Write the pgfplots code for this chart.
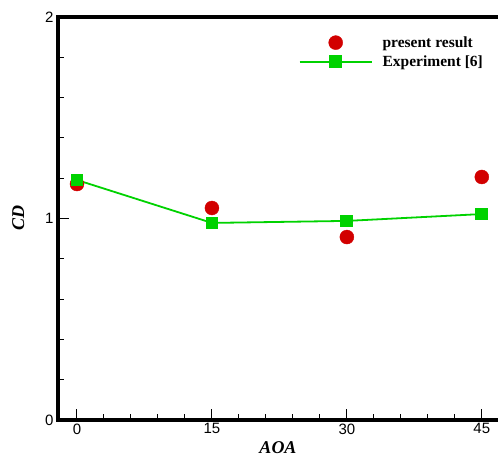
\documentclass[border=0pt]{standalone}
\usepackage{fontspec}
\setmainfont{Liberation Serif}
\newfontfamily\arial{Liberation Sans}
\usepackage{pgfplots}
\pgfplotsset{compat=1.18}
\definecolor{myred}{RGB}{210,0,0}
\definecolor{mygreen}{RGB}{0,210,0}
\begin{document}
\begin{tikzpicture}
\begin{axis}[
  scale only axis,
  width=440pt, height=403pt,
  xmin=-2.11, xmax=46.8,
  ymin=0, ymax=2,
  axis x line*=box,
  axis y line*=left,
  axis line style={line width=3.2pt},
  xtick={0,15,30,45},
  ytick={0,1,2},
  minor x tick num=4,
  minor y tick num=4,
  tick align=inside,
  major tick length=11pt,
  minor tick length=6pt,
  tick style={black, line width=1pt},
  xtick pos=bottom,
  ytick pos=left,
  /pgf/number format/assume math mode=true,
  tick label style={font=\arial\fontsize{15}{15}\selectfont},
  yticklabel style={xshift=-1pt},
  xlabel={\bfseries\itshape AOA},
  ylabel={\bfseries\itshape CD},
  label style={font=\fontsize{18}{18}\selectfont},
  xlabel style={yshift=-1pt},
  ylabel style={yshift=14pt},
  legend style={draw=none, fill=none, at={(0.54,0.962)}, anchor=north west,
    font=\bfseries\fontsize{15.5}{16}\selectfont, row sep=3pt,
    /tikz/every odd column/.append style={column sep=8pt}},
  legend cell align=left,
  legend image code/.code={\draw[mark repeat=2,mark phase=2] plot coordinates {(0pt,0pt)(36pt,0pt)(72pt,0pt)};},
  clip=false,
]
\draw[black, line width=3.2pt, line cap=rect] (rel axis cs:1.05,1) -- (rel axis cs:0,1) -- (rel axis cs:0,0) -- (rel axis cs:1.05,0);
\addplot[only marks, mark=*, mark size=7pt, color=myred, draw=myred, fill=myred]
  coordinates {(0,1.171) (15,1.052) (30,0.908) (45,1.206)};
\addlegendentry{present result}
\addplot[color=mygreen, line width=1.8pt, mark=square*, mark size=5.5pt, mark options={fill=mygreen, draw=mygreen}]
  coordinates {(0,1.191) (15,0.978) (30,0.988) (45,1.022)};
\addlegendentry{Experiment [6]}
\end{axis}
\pgfresetboundingbox
\path ([xshift=-58pt,yshift=-34pt]current axis.south west) rectangle ([yshift=17pt]current axis.north east);
\end{tikzpicture}
\end{document}
